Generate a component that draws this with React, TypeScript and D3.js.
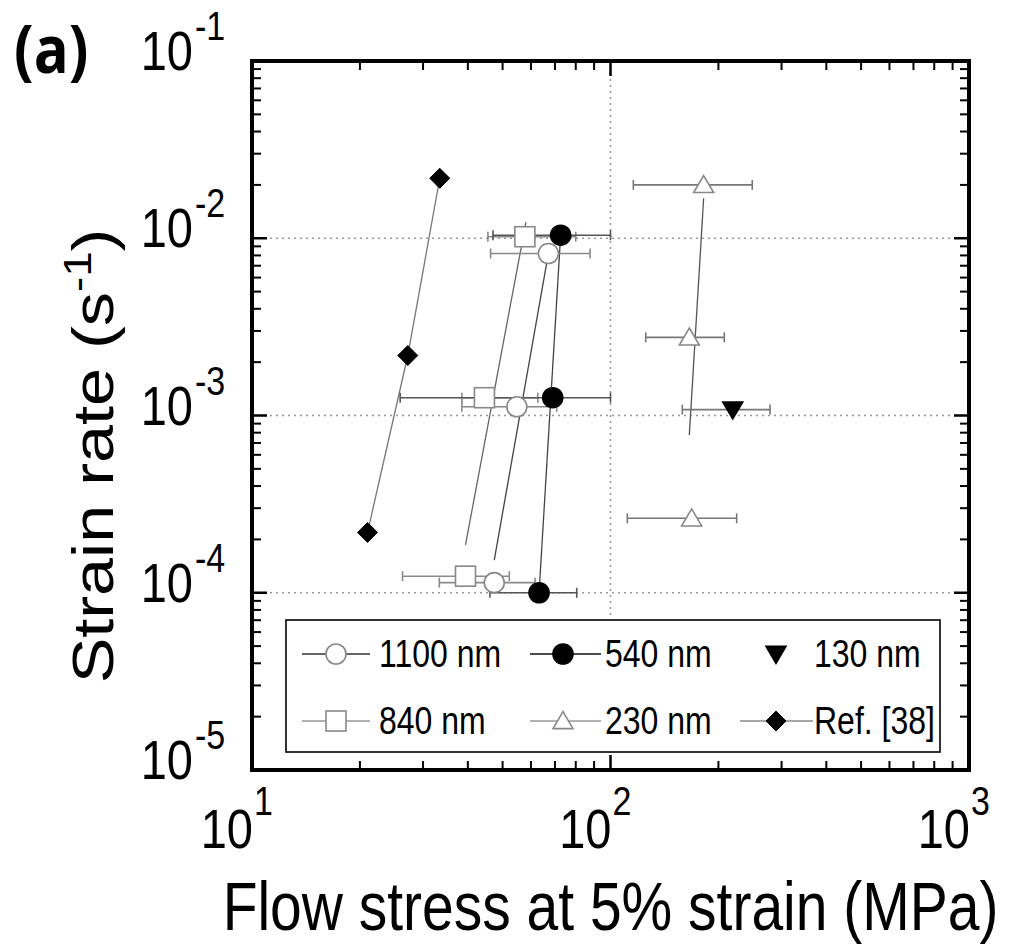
import React from 'react';
import * as d3 from 'd3';

const W = 1018;
const H = 949;

// axes
const xDomain = [10, 1000];
const yDomain = [1e-5, 1e-1];
const xTickExps = [1, 2, 3];
const yTickExps = [-1, -2, -3, -4, -5];
const xGridVals = [100];
const yGridVals = [1e-2, 1e-3, 1e-4];

// 1100 nm (open circle)
const s1100X = [67.1, 54.8, 47.4];
const s1100Y = [0.0082, 0.00112, 0.000114];
const s1100Lo = [46.3, 38.5, 33.3];
const s1100Hi = [87.7, 70.8, 61.6];
const s1100FitX = [67.1, 47.4];
const s1100FitY = [0.0082, 0.000153];

// 540 nm (filled circle)
const s540X = [72.6, 69.0, 63.2];
const s540Y = [0.0104, 0.00126, 0.0001];
const s540Lo = [47, 25.9, 46.1];
const s540Hi = [100, 100, 80.5];
const s540FitX = [72.6, 63.2];
const s540FitY = [0.0104, 0.0001];

// 840 nm (open square)
const s840X = [57.7, 44.5, 39.4];
const s840Y = [0.0102, 0.00126, 0.000124];
const s840Lo = [45.5, 38.5, 26.3];
const s840Hi = [80, 62.7, 52.2];
const s840FitX = [58.1, 39.4];
const s840FitY = [0.01234, 0.000186];

// 230 nm (open triangle)
const s230X = [181.9, 165.9, 168.4];
const s230Y = [0.02, 0.00276, 0.000263];
const s230Lo = [115.8, 125.4, 111.4];
const s230Hi = [248.6, 207.7, 224.9];
const s230FitX = [181.9, 165.9];
const s230FitY = [0.0168, 0.000775];

// 130 nm (filled down triangle)
const s130X = [219.3];
const s130Y = [0.00108];
const s130Lo = [158.6];
const s130Hi = [278.6];

// Ref. [38] (filled diamond)
const refX = [33.4, 27.2, 21.0];
const refY = [0.0218, 0.00218, 0.000219];

const legendRow1 = ['1100 nm', '540 nm', '130 nm'];
const legendRow2 = ['840 nm', '230 nm', 'Ref. [38]'];

const FONT = "'Liberation Sans', Arial, sans-serif";
const K = 1.2; // vertical stretch of text in the reference

const x = d3.scaleLog().domain(xDomain).range([252, 969]);
const y = d3.scaleLog().domain(yDomain).range([770, 61]);

type MarkerType = 'circle' | 'square' | 'triangle' | 'down' | 'diamond';

function Marker({ type, cx, cy, fill, stroke, size = 10 }: { type: MarkerType; cx: number; cy: number; fill: string; stroke: string; size?: number }) {
  const sw = 1.6;
  if (type === 'circle') return <circle cx={cx} cy={cy} r={size} fill={fill} stroke={stroke} strokeWidth={sw} />;
  if (type === 'square') return <rect x={cx - size} y={cy - size} width={size * 2} height={size * 2} fill={fill} stroke={stroke} strokeWidth={sw} />;
  if (type === 'triangle') {
    const h = size * 1.7;
    return <path d={`M${cx},${cy - h * 0.55} L${cx + size},${cy + h * 0.45} L${cx - size},${cy + h * 0.45} Z`} fill={fill} stroke={stroke} strokeWidth={sw} />;
  }
  if (type === 'down') {
    const h = size * 1.7;
    return <path d={`M${cx},${cy + h * 0.55} L${cx + size},${cy - h * 0.45} L${cx - size},${cy - h * 0.45} Z`} fill={fill} stroke={stroke} strokeWidth={sw} />;
  }
  return <path d={`M${cx},${cy - size} L${cx + size},${cy} L${cx},${cy + size} L${cx - size},${cy} Z`} fill={fill} stroke={stroke} strokeWidth={1} />;
}

function T({ x: tx, y: ty, size, anchor = 'start', children, weight, family, k = K }: { x: number; y: number; size: number; anchor?: string; children: React.ReactNode; weight?: number; family?: string; k?: number }) {
  return (
    <text transform={`translate(${tx},${ty}) scale(1,${k})`} fontSize={size} textAnchor={anchor} fontWeight={weight} fontFamily={family} fill="#000">
      {children}
    </text>
  );
}

interface Series {
  xs: number[]; ys: number[]; lo?: number[]; hi?: number[];
  fitX?: number[]; fitY?: number[]; poly?: boolean;
  marker: MarkerType; fill: string; stroke: string; errColor: string; lineColor: string;
}

const series: Series[] = [
  { xs: s840X, ys: s840Y, lo: s840Lo, hi: s840Hi, fitX: s840FitX, fitY: s840FitY, marker: 'square', fill: '#fff', stroke: '#888', errColor: '#8a8a8a', lineColor: '#666' },
  { xs: s1100X, ys: s1100Y, lo: s1100Lo, hi: s1100Hi, fitX: s1100FitX, fitY: s1100FitY, marker: 'circle', fill: '#fff', stroke: '#888', errColor: '#8a8a8a', lineColor: '#444' },
  { xs: s540X, ys: s540Y, lo: s540Lo, hi: s540Hi, fitX: s540FitX, fitY: s540FitY, marker: 'circle', fill: '#000', stroke: '#000', errColor: '#555', lineColor: '#444' },
  { xs: s230X, ys: s230Y, lo: s230Lo, hi: s230Hi, fitX: s230FitX, fitY: s230FitY, marker: 'triangle', fill: '#fff', stroke: '#888', errColor: '#777', lineColor: '#555' },
  { xs: s130X, ys: s130Y, lo: s130Lo, hi: s130Hi, marker: 'down', fill: '#000', stroke: '#000', errColor: '#777', lineColor: '#555' },
  { xs: refX, ys: refY, poly: true, marker: 'diamond', fill: '#000', stroke: '#000', errColor: '#777', lineColor: '#777' },
];

export default function App() {
  const line = d3.line<[number, number]>().x(d => x(d[0])).y(d => y(d[1]));
  const [x0, x1] = x.range();
  const [y0, y1] = y.range();

  const xMinor: number[] = [];
  for (let e = 1; e < 3; e++) for (let m = 2; m <= 9; m++) xMinor.push(m * Math.pow(10, e));
  const yMinor: number[] = [];
  for (let e = -5; e < -1; e++) for (let m = 2; m <= 9; m++) yMinor.push(m * Math.pow(10, e));

  const majorLen = 15, minorLen = 9;

  // legend layout
  const lgX0 = 286, lgY0 = 620, lgX1 = 940, lgY1 = 752;
  const rowY = [654, 721];
  const colLine = [[302, 370], [530, 601], [740, 813]];
  const colMarker = [336, 563, 776];
  const colText = [379, 605, 814];
  const legendItems: { row: number; col: number; label: string; marker: MarkerType; fill: string; stroke: string; lineColor: string | null }[] = [
    { row: 0, col: 0, label: legendRow1[0], marker: 'circle', fill: '#fff', stroke: '#888', lineColor: '#333' },
    { row: 0, col: 1, label: legendRow1[1], marker: 'circle', fill: '#000', stroke: '#000', lineColor: '#111' },
    { row: 0, col: 2, label: legendRow1[2], marker: 'down', fill: '#000', stroke: '#000', lineColor: null },
    { row: 1, col: 0, label: legendRow2[0], marker: 'square', fill: '#fff', stroke: '#888', lineColor: '#999' },
    { row: 1, col: 1, label: legendRow2[1], marker: 'triangle', fill: '#fff', stroke: '#888', lineColor: '#999' },
    { row: 1, col: 2, label: legendRow2[2], marker: 'diamond', fill: '#000', stroke: '#000', lineColor: '#888' },
  ];

  return (
    <svg width={W} height={H} style={{ position: 'absolute', left: 0, top: 0, background: '#fff' }} fontFamily={FONT}>
      <rect x={0} y={0} width={W} height={H} fill="#fff" />
      {/* grid */}
      {xGridVals.map(v => (
        <line key={'gx' + v} x1={x(v)} x2={x(v)} y1={y1} y2={y0} stroke="#999" strokeWidth={1.6} strokeDasharray="2,4" />
      ))}
      {yGridVals.map(v => (
        <line key={'gy' + v} x1={x0} x2={x1} y1={y(v)} y2={y(v)} stroke="#999" strokeWidth={1.6} strokeDasharray="2,4" />
      ))}

      {/* fit lines */}
      {series.map((s, i) => {
        if (s.poly) {
          const pts = s.xs.map((v, j) => [v, s.ys[j]] as [number, number]);
          return <path key={'fl' + i} d={line(pts) || ''} fill="none" stroke={s.lineColor} strokeWidth={1.3} />;
        }
        if (!s.fitX || !s.fitY) return null;
        const pts = s.fitX.map((v, j) => [v, s.fitY![j]] as [number, number]);
        return <path key={'fl' + i} d={line(pts) || ''} fill="none" stroke={s.lineColor} strokeWidth={1.3} />;
      })}

      {/* error bars */}
      {series.map((s, i) => s.lo && s.hi ? s.xs.map((v, j) => {
        const yy = y(s.ys[j]);
        const a = x(s.lo![j]);
        const b = x(s.hi![j]);
        return (
          <g key={'eb' + i + '_' + j} stroke={s.errColor} strokeWidth={1.6}>
            <line x1={a} x2={b} y1={yy} y2={yy} />
            <line x1={a} x2={a} y1={yy - 5} y2={yy + 5} />
            <line x1={b} x2={b} y1={yy - 5} y2={yy + 5} />
          </g>
        );
      }) : null)}

      {/* markers */}
      {series.map((s, i) => s.xs.map((v, j) => (
        <Marker key={'m' + i + '_' + j} type={s.marker} cx={x(v)} cy={y(s.ys[j])} fill={s.fill} stroke={s.stroke} />
      )))}

      {/* ticks */}
      {xTickExps.map(e => {
        const px = x(Math.pow(10, e));
        return (
          <g key={'xt' + e} stroke="#000" strokeWidth={2.5}>
            <line x1={px} x2={px} y1={y0} y2={y0 - majorLen} />
            <line x1={px} x2={px} y1={y1} y2={y1 + majorLen} />
          </g>
        );
      })}
      {xMinor.map(v => (
        <g key={'xm' + v} stroke="#000" strokeWidth={2}>
          <line x1={x(v)} x2={x(v)} y1={y0} y2={y0 - minorLen} />
          <line x1={x(v)} x2={x(v)} y1={y1} y2={y1 + minorLen} />
        </g>
      ))}
      {yTickExps.map(e => {
        const py = y(Math.pow(10, e));
        return (
          <g key={'yt' + e} stroke="#000" strokeWidth={2.5}>
            <line x1={x0} x2={x0 + majorLen} y1={py} y2={py} />
            <line x1={x1} x2={x1 - majorLen} y1={py} y2={py} />
          </g>
        );
      })}
      {yMinor.map(v => (
        <g key={'ym' + v} stroke="#000" strokeWidth={2}>
          <line x1={x0} x2={x0 + minorLen} y1={y(v)} y2={y(v)} />
          <line x1={x1} x2={x1 - minorLen} y1={y(v)} y2={y(v)} />
        </g>
      ))}

      {/* legend */}
      <rect x={lgX0} y={lgY0} width={lgX1 - lgX0} height={lgY1 - lgY0} fill="#fff" stroke="#000" strokeWidth={1.6} />
      {legendItems.map((it, k) => {
        const cy = rowY[it.row];
        return (
          <g key={'lg' + k}>
            {it.lineColor && (
              <line x1={colLine[it.col][0]} x2={colLine[it.col][1]} y1={cy} y2={cy} stroke={it.lineColor} strokeWidth={1.4} />
            )}
            <Marker type={it.marker} cx={colMarker[it.col]} cy={cy} fill={it.fill} stroke={it.stroke} />
            <T x={colText[it.col]} y={cy + 13} size={32}>{it.label}</T>
          </g>
        );
      })}

      {/* frame */}
      <rect x={x0} y={y1} width={x1 - x0} height={y0 - y1} fill="none" stroke="#000" strokeWidth={4} />

      {/* x tick labels */}
      {xTickExps.map(e => {
        const px = x(Math.pow(10, e));
        return (
          <g key={'xl' + e}>
            <T x={px + 1} y={y0 + 78} size={47} anchor="end">10</T>
            <T x={px + 2} y={y0 + 45} size={34}>{String(e)}</T>
          </g>
        );
      })}
      {/* y tick labels */}
      {yTickExps.map(e => {
        const py = y(Math.pow(10, e));
        return (
          <g key={'yl' + e}>
            <T x={193} y={py + 9} size={47} anchor="end">10</T>
            <T x={195} y={py - 21} size={34}>{'-' + Math.abs(e)}</T>
          </g>
        );
      })}

      {/* axis titles */}
      <T x={(x0 + x1) / 2} y={930} size={57} anchor="middle">Flow stress at 5% strain (MPa)</T>
      <text transform={`translate(113, 456) scale(1,${K}) rotate(-90)`} fontSize={57} textAnchor="middle" fill="#000">
        Strain rate (s<tspan fontSize={38} dy={-22}>-1</tspan><tspan dy={22}>)</tspan>
      </text>

      {/* panel label */}
      <T x={14} y={73} size={58} k={1.15} weight={700} family="'Open Sans', sans-serif">(a)</T>
    </svg>
  );
}
